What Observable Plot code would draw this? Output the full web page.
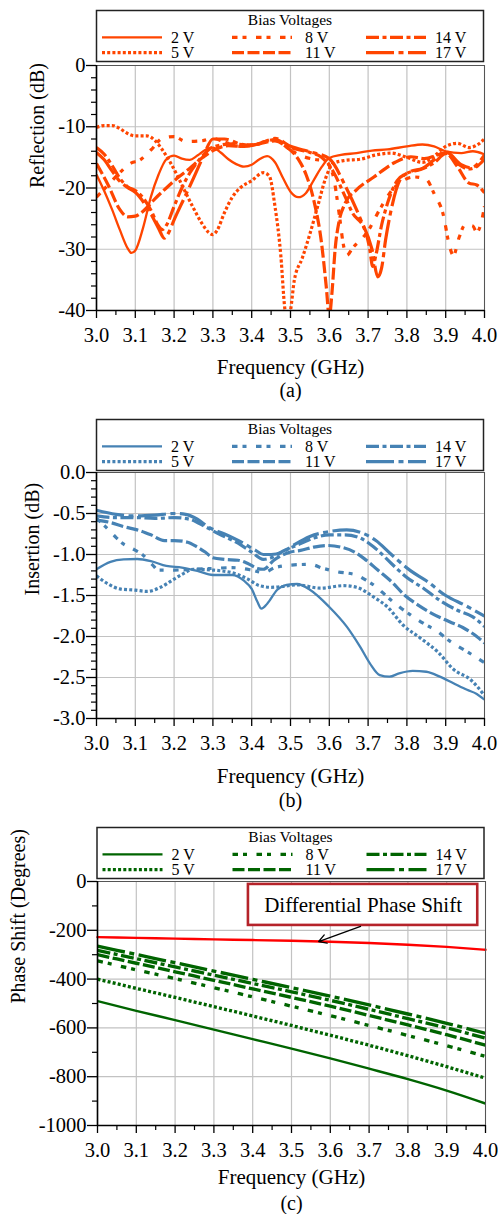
<!DOCTYPE html>
<html><head><meta charset="utf-8">
<script src="https://cdn.jsdelivr.net/npm/d3@7"></script>
<script src="https://cdn.jsdelivr.net/npm/@observablehq/plot@0.6"></script>
<style>
body{margin:0;background:#fff;}
#root{position:relative;width:498px;height:1214px;overflow:hidden;font-family:"Liberation Serif","Times New Roman",serif;}
</style></head><body><div id="root"></div>
<script>
// ---------- categories / styles ----------
const voltages = ["2 V","5 V","8 V","11 V","14 V","17 V"];
const dashPatterns = {"2 V":null,"5 V":"3,2.2","8 V":"5.5,5,4,9.5","11 V":"12,3.5","14 V":"13,3.5,4,3.5","17 V":"28,4.5,5,4.5"};
const lineWidths = {"2 V":2.3,"5 V":3.2,"8 V":3.2,"11 V":3.2,"14 V":3.2,"17 V":3.2};
const freqTicks = [3.0,3.1,3.2,3.3,3.4,3.5,3.6,3.7,3.8,3.9,4.0];
const freqMinor = [3.05,3.15,3.25,3.35,3.45,3.55,3.65,3.75,3.85,3.95];

// ---------- (a) Reflection (dB) ----------
const refl2 = [[3.00,-17.8],[3.02,-20.5],[3.04,-23.5],[3.06,-26.8],[3.08,-29.8],[3.09,-30.6],[3.10,-30.2],[3.12,-26.5],[3.14,-21.5],[3.16,-17.8],[3.18,-15.3],[3.20,-14.7],[3.22,-15.2],[3.24,-15.4],[3.26,-14.7],[3.28,-13.8],[3.30,-13.4],[3.32,-14.2],[3.34,-15.3],[3.36,-16.1],[3.38,-16.5],[3.40,-16.2],[3.42,-15.3],[3.44,-14.8],[3.46,-15.8],[3.48,-18.3],[3.50,-20.6],[3.52,-21.5],[3.54,-20.8],[3.56,-18.7],[3.58,-16.6],[3.60,-15.1],[3.63,-14.6],[3.67,-14.3],[3.71,-13.9],[3.75,-13.7],[3.80,-13.2],[3.84,-12.9],[3.87,-13.2],[3.90,-14.0],[3.94,-14.3],[3.97,-14.0],[4.00,-14.5]];
const refl5 = [[3.00,-10.1],[3.02,-9.8],[3.04,-9.8],[3.06,-10.3],[3.08,-11.1],[3.10,-11.5],[3.13,-11.5],[3.15,-12.2],[3.17,-13.8],[3.19,-15.8],[3.21,-18.2],[3.23,-20.8],[3.25,-23.3],[3.27,-25.6],[3.29,-27.3],[3.30,-27.6],[3.31,-27.0],[3.33,-24.0],[3.35,-21.5],[3.37,-20.0],[3.40,-18.8],[3.43,-17.5],[3.445,-18.0],[3.46,-23.0],[3.475,-31.0],[3.485,-39.5],[3.492,-42.0],[3.50,-40.0],[3.51,-35.0],[3.53,-31.5],[3.55,-27.5],[3.57,-23.0],[3.59,-18.5],[3.61,-16.0],[3.64,-15.5],[3.68,-15.3],[3.72,-14.6],[3.76,-14.3],[3.80,-15.0],[3.84,-15.8],[3.87,-14.8],[3.90,-13.2],[3.93,-12.7],[3.96,-13.4],[3.98,-13.0],[4.00,-12.0]];
const refl8 = [[3.00,-21.5],[3.03,-19.5],[3.06,-17.5],[3.09,-15.9],[3.11,-15.5],[3.14,-13.8],[3.17,-11.9],[3.20,-11.6],[3.23,-12.4],[3.27,-12.3],[3.30,-11.9],[3.33,-12.5],[3.37,-13.2],[3.40,-13.0],[3.43,-12.5],[3.46,-12.2],[3.50,-13.8],[3.53,-14.8],[3.56,-15.3],[3.59,-15.6],[3.61,-18.0],[3.625,-24.0],[3.637,-29.5],[3.645,-31.0],[3.66,-29.8],[3.70,-27.0],[3.73,-23.5],[3.76,-20.5],[3.79,-18.8],[3.82,-18.2],[3.85,-18.6],[3.87,-20.9],[3.895,-24.7],[3.908,-29.0],[3.92,-31.0],[3.935,-28.0],[3.95,-26.0],[3.97,-26.2],[3.98,-27.2],[3.99,-26.0],[4.00,-23.0]];
const refl11 = [[3.00,-16.0],[3.03,-19.5],[3.06,-23.5],[3.08,-24.7],[3.10,-24.6],[3.12,-23.8],[3.15,-21.8],[3.18,-20.0],[3.21,-18.3],[3.24,-16.8],[3.27,-15.2],[3.30,-13.9],[3.34,-13.1],[3.38,-13.2],[3.42,-12.8],[3.46,-12.3],[3.49,-13.3],[3.52,-15.3],[3.54,-17.8],[3.56,-22.0],[3.58,-29.0],[3.592,-36.0],[3.60,-41.0],[3.607,-37.0],[3.615,-30.0],[3.625,-25.5],[3.64,-22.6],[3.67,-20.3],[3.715,-18.2],[3.77,-15.8],[3.81,-14.9],[3.845,-15.2],[3.90,-14.3],[3.93,-16.5],[3.96,-19.2],[3.98,-19.5],[4.00,-20.8]];
const refl14 = [[3.00,-13.4],[3.02,-14.5],[3.04,-16.3],[3.06,-18.4],[3.08,-19.8],[3.10,-20.4],[3.12,-21.6],[3.14,-23.6],[3.16,-26.2],[3.17,-26.8],[3.18,-26.1],[3.20,-23.0],[3.22,-20.0],[3.24,-17.6],[3.27,-15.0],[3.30,-13.3],[3.35,-12.8],[3.40,-13.0],[3.46,-12.1],[3.50,-13.4],[3.55,-14.2],[3.58,-15.0],[3.61,-17.3],[3.64,-21.3],[3.66,-24.1],[3.69,-26.6],[3.703,-29.5],[3.712,-32.8],[3.72,-31.0],[3.735,-26.0],[3.75,-22.5],[3.775,-18.8],[3.80,-17.6],[3.835,-17.0],[3.87,-15.9],[3.90,-14.4],[3.93,-16.0],[3.96,-16.9],[3.98,-16.5],[4.00,-15.3]];
const refl17 = [[3.00,-14.2],[3.02,-15.4],[3.04,-17.2],[3.06,-18.9],[3.08,-19.9],[3.10,-20.7],[3.12,-22.2],[3.14,-24.2],[3.16,-26.6],[3.175,-28.2],[3.185,-27.4],[3.20,-25.2],[3.225,-21.8],[3.25,-18.4],[3.275,-14.9],[3.30,-12.0],[3.33,-12.0],[3.37,-12.8],[3.40,-13.0],[3.43,-12.5],[3.46,-11.9],[3.50,-13.2],[3.55,-14.1],[3.60,-15.2],[3.64,-19.5],[3.68,-25.0],[3.71,-30.0],[3.725,-34.5],[3.735,-33.0],[3.745,-28.5],[3.758,-24.0],[3.784,-18.5],[3.81,-17.3],[3.84,-16.8],[3.87,-15.4],[3.90,-14.1],[3.94,-16.2],[3.965,-16.7],[4.00,-14.6]];

// ---------- (b) Insertion (dB) ----------
const ins2 = [[3.00,-1.18],[3.036,-1.09],[3.07,-1.06],[3.105,-1.055],[3.14,-1.08],[3.18,-1.14],[3.22,-1.16],[3.26,-1.20],[3.30,-1.25],[3.35,-1.25],[3.38,-1.32],[3.40,-1.42],[3.415,-1.58],[3.425,-1.66],[3.44,-1.60],[3.466,-1.43],[3.49,-1.37],[3.517,-1.36],[3.55,-1.43],[3.60,-1.64],[3.645,-1.88],[3.68,-2.13],[3.705,-2.33],[3.73,-2.47],[3.755,-2.49],[3.78,-2.45],[3.815,-2.42],[3.85,-2.43],[3.885,-2.49],[3.92,-2.57],[3.955,-2.65],[3.98,-2.70],[4.00,-2.77]];
const ins5 = [[3.00,-1.26],[3.03,-1.36],[3.06,-1.42],[3.10,-1.435],[3.13,-1.45],[3.165,-1.40],[3.20,-1.30],[3.225,-1.23],[3.25,-1.18],[3.30,-1.19],[3.355,-1.23],[3.39,-1.30],[3.42,-1.38],[3.45,-1.40],[3.48,-1.39],[3.517,-1.37],[3.577,-1.41],[3.637,-1.38],[3.67,-1.40],[3.715,-1.52],[3.75,-1.64],[3.79,-1.86],[3.835,-2.02],[3.88,-2.19],[3.92,-2.40],[3.965,-2.53],[4.00,-2.72]];
const ins8 = [[3.00,-0.56],[3.023,-0.66],[3.05,-0.79],[3.066,-0.86],[3.097,-0.94],[3.118,-1.00],[3.143,-1.12],[3.16,-1.19],[3.20,-1.19],[3.25,-1.18],[3.30,-1.17],[3.35,-1.16],[3.40,-1.19],[3.43,-1.22],[3.46,-1.16],[3.50,-1.13],[3.55,-1.12],[3.585,-1.17],[3.62,-1.21],[3.67,-1.25],[3.70,-1.33],[3.72,-1.39],[3.75,-1.52],[3.81,-1.74],[3.85,-1.86],[3.88,-1.94],[3.90,-2.02],[3.925,-2.10],[3.95,-2.17],[4.00,-2.32]];
const ins11 = [[3.00,-0.58],[3.036,-0.61],[3.07,-0.66],[3.105,-0.70],[3.14,-0.76],[3.175,-0.83],[3.20,-0.83],[3.235,-0.85],[3.26,-0.91],[3.28,-0.97],[3.30,-1.04],[3.33,-1.06],[3.365,-1.07],[3.39,-1.11],[3.415,-1.17],[3.43,-1.18],[3.457,-1.07],[3.50,-0.97],[3.526,-0.95],[3.56,-0.91],[3.595,-0.89],[3.63,-0.91],[3.665,-0.97],[3.69,-1.05],[3.725,-1.19],[3.76,-1.33],[3.795,-1.50],[3.83,-1.62],[3.865,-1.72],[3.91,-1.82],[3.944,-1.89],[3.98,-2.00],[4.00,-2.08]];
const ins14 = [[3.00,-0.53],[3.05,-0.55],[3.10,-0.55],[3.15,-0.56],[3.20,-0.55],[3.24,-0.57],[3.28,-0.66],[3.32,-0.76],[3.36,-0.85],[3.40,-0.97],[3.43,-1.06],[3.45,-1.04],[3.48,-0.96],[3.52,-0.88],[3.56,-0.80],[3.60,-0.76],[3.64,-0.76],[3.68,-0.80],[3.72,-0.93],[3.76,-1.11],[3.80,-1.28],[3.845,-1.42],[3.885,-1.56],[3.93,-1.68],[3.97,-1.76],[4.00,-1.88]];
const ins17 = [[3.00,-0.46],[3.05,-0.51],[3.10,-0.53],[3.15,-0.52],[3.20,-0.50],[3.23,-0.51],[3.26,-0.57],[3.29,-0.67],[3.33,-0.75],[3.37,-0.84],[3.41,-0.95],[3.43,-1.00],[3.45,-1.00],[3.48,-0.97],[3.51,-0.88],[3.55,-0.78],[3.60,-0.72],[3.645,-0.70],[3.68,-0.73],[3.72,-0.83],[3.76,-1.00],[3.81,-1.20],[3.85,-1.32],[3.90,-1.50],[3.95,-1.62],[4.00,-1.75]];

// ---------- (c) Phase Shift (Degrees) ----------
const ph2 = [[3.0,-490],[3.1,-530],[3.2,-568],[3.3,-607],[3.4,-646],[3.5,-685],[3.6,-725],[3.7,-767],[3.8,-810],[3.9,-857],[4.0,-910]];
const ph5 = [[3.0,-400],[3.1,-438],[3.2,-475],[3.3,-513],[3.4,-551],[3.5,-590],[3.6,-630],[3.7,-671],[3.8,-714],[3.9,-759],[4.0,-806]];
const ph8 = [[3.0,-325],[3.1,-362],[3.2,-398],[3.3,-435],[3.4,-473],[3.5,-511],[3.6,-550],[3.7,-590],[3.8,-631],[3.9,-673],[4.0,-717]];
const ph11 = [[3.0,-300],[3.1,-335],[3.2,-370],[3.3,-405],[3.4,-440],[3.5,-475],[3.6,-511],[3.7,-549],[3.8,-588],[3.9,-628],[4.0,-671]];
const ph14 = [[3.0,-282],[3.1,-316],[3.2,-350],[3.3,-384],[3.4,-418],[3.5,-452],[3.6,-487],[3.7,-524],[3.8,-562],[3.9,-600],[4.0,-642]];
const ph17 = [[3.0,-265],[3.1,-299],[3.2,-333],[3.3,-367],[3.4,-401],[3.5,-435],[3.6,-470],[3.7,-506],[3.8,-543],[3.9,-581],[4.0,-622]];
const phDiff = [[3.0,-228],[3.1,-231],[3.2,-234],[3.3,-237],[3.4,-240],[3.5,-243],[3.6,-247],[3.7,-252],[3.8,-259],[3.9,-268],[4.0,-280]];
const annotationBox = [{x1:3.389, x2:3.98, y1:-12, y2:-180, label:"Differential Phase Shift", xc:3.6845, yc:-96}];
const annotationArrow = [{x1:3.678, y1:-184, x2:3.57, y2:-246}];

const root = document.getElementById("root");
const FONT = '"Liberation Serif","Times New Roman",serif';

function legend(boxTop, shift, color) {
  const svg = d3.create("svg").attr("width",498).attr("height",66)
    .style("position","absolute").style("left","0px").style("top",(boxTop-10)+"px").style("z-index","5")
    .style("font-family",FONT);
  svg.append("rect").attr("x",96.5+shift).attr("y",10.5).attr("width",387).attr("height",51)
    .attr("fill","#fff").attr("stroke","#222").attr("stroke-width",1.5);
  svg.append("text").attr("x",290+shift).attr("y",25).attr("text-anchor","middle")
    .attr("font-size",15.5).text("Bias Voltages");
  const colSample = [102,232,366], colLabel = [171,305,435], rowY = [37.3,52.7];
  voltages.forEach((v,i) => {
    const col = Math.floor(i/2), row = i%2;
    const ln = svg.append("line").attr("x1",colSample[col]+shift).attr("x2",colSample[col]+60+shift)
      .attr("y1",rowY[row]).attr("y2",rowY[row]).attr("stroke",color).attr("stroke-width",lineWidths[v]);
    if (dashPatterns[v]) ln.attr("stroke-dasharray",dashPatterns[v]);
    svg.append("text").attr("x",colLabel[col]+shift).attr("y",rowY[row]+5.5).attr("font-size",16).text(v);
  });
  root.appendChild(svg.node());
}

function panel(o) {
  const lines = o.series.map((s,i) => Plot.line(s, {x: d=>d[0], y: d=>d[1], stroke: o.color,
      strokeWidth: o.widthScale * lineWidths[voltages[i]], strokeDasharray: dashPatterns[voltages[i]] || undefined,
      strokeLinecap: "butt", strokeLinejoin: "round",
      curve: "monotone-x", clip: true}));
  const chart = Plot.plot({
    width: 498, height: 10 + o.plotH + 95,
    marginTop: 10, marginBottom: 95, marginLeft: o.marginLeft, marginRight: o.marginRight,
    x: {domain: [3,4], axis: null},
    y: {domain: o.yDomain, axis: null},
    style: {fontFamily: FONT, fontSize: "20px", background: "transparent", overflow: "visible", color: "#000"},
    marks: [
      Plot.gridX({ticks: freqTicks, stroke: "#c2c2c2", strokeOpacity: 1, strokeWidth: 1.2}),
      Plot.gridY({ticks: o.yMajor, stroke: "#c2c2c2", strokeOpacity: 1, strokeWidth: 1.2}),
      ...(o.extraBefore || []),
      ...lines,
      Plot.frame({stroke: "#555", strokeWidth: 1}),
      Plot.ruleX([3], {stroke: "#000", strokeWidth: 1.6}),
      Plot.ruleY([o.yDomain[0]], {stroke: "#000", strokeWidth: 1.6}),
      Plot.axisX({ticks: freqTicks, tickSize: 8, tickPadding: 9, tickFormat: d => d.toFixed(1), strokeWidth: 1.3, fontSize: 20.5}),
      Plot.axisX({ticks: freqMinor, tickSize: 5, tickFormat: () => "", strokeWidth: 1.2}),
      Plot.axisY({ticks: o.yMajor, tickSize: 10, tickPadding: 1, tickFormat: o.yFormat, strokeWidth: 1.3, fontSize: 20.5}),
      Plot.axisY({ticks: o.yMinor, tickSize: 5, tickFormat: () => "", strokeWidth: 1.2}),
      Plot.text(["Frequency (GHz)"], {text: d=>d, frameAnchor: "bottom", dy: o.labelDy, lineAnchor: "middle", fontSize: 21}),
      Plot.text([o.yLabel], {text: d=>d, frameAnchor: "left", dx: o.yLabelDx, rotate: -90, lineAnchor: "middle", fontSize: 20}),
      Plot.text([o.caption], {text: d=>d, frameAnchor: "bottom", dy: o.captionDy, lineAnchor: "middle", fontSize: 20}),
      ...(o.extraAfter || [])
    ]
  });
  chart.style.position = "absolute";
  chart.style.left = "0px";
  chart.style.top = (o.plotTop - 10) + "px";
  root.appendChild(chart);
}

const range = (a,b,s) => d3.range(Math.round((b-a)/s)+1).map(i => +(a + i*s).toFixed(4));

// Panel (a)
panel({plotTop: 65, plotH: 245, marginLeft: 96, marginRight: 14, yDomain: [-40,0],
  yMajor: [0,-10,-20,-30,-40], yMinor: range(-40,0,2).filter(v => v%10 !== 0),
  yFormat: d => String(d), yLabel: "Reflection (dB)", yLabelDx: -59,
  labelDy: 57, caption: "(a)", captionDy: 80, color: "#ff4500", widthScale: 1,
  series: [refl2, refl5, refl8, refl11, refl14, refl17]});
legend(10, 0, "#ff4500");

// Panel (b)
panel({plotTop: 472, plotH: 246, marginLeft: 96, marginRight: 14, yDomain: [-3,0],
  yMajor: [0,-0.5,-1,-1.5,-2,-2.5,-3], yMinor: range(-3,0,0.1).filter(v => Math.abs(v*2 - Math.round(v*2)) > 1e-6),
  yFormat: d => d.toFixed(1), yLabel: "Insertion (dB)", yLabelDx: -64,
  labelDy: 58, caption: "(b)", captionDy: 82, color: "#4682b4", widthScale: 1,
  series: [ins2, ins5, ins8, ins11, ins14, ins17]});
legend(419, 0, "#4682b4");

// Panel (c)
panel({plotTop: 881, plotH: 244, marginLeft: 97, marginRight: 13, yDomain: [-1000,0],
  yMajor: [0,-200,-400,-600,-800,-1000], yMinor: [-100,-300,-500,-700,-900],
  yFormat: d => String(d), yLabel: "Phase Shift (Degrees)", yLabelDx: -79,
  labelDy: 52, caption: "(c)", captionDy: 78, color: "#006400", widthScale: 1.05,
  series: [ph2, ph5, ph8, ph11, ph14, ph17],
  extraBefore: [Plot.line(phDiff, {x: d=>d[0], y: d=>d[1], stroke: "#ff0000", strokeWidth: 2.4, curve: "monotone-x"})],
  extraAfter: [
    Plot.rect(annotationBox, {x1: "x1", x2: "x2", y1: "y1", y2: "y2", fill: "#fff", stroke: "#b5232a", strokeWidth: 2.6}),
    Plot.text(annotationBox, {x: "xc", y: "yc", text: "label", fontSize: 21, lineAnchor: "middle"}),
    Plot.arrow(annotationArrow, {x1: "x1", y1: "y1", x2: "x2", y2: "y2", stroke: "#000", strokeWidth: 1.3, headLength: 10})
  ]});
legend(827, 0.5, "#006400");
</script></body></html>
